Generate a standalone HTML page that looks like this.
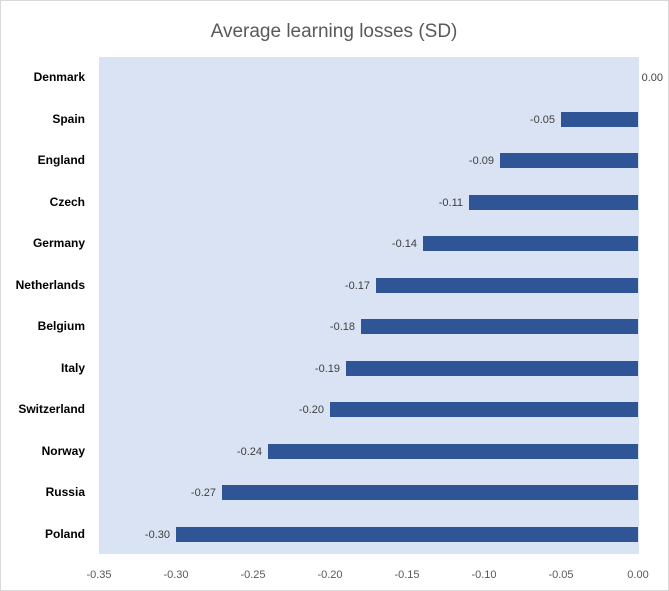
<!DOCTYPE html>
<html><head><meta charset="utf-8"><style>
body{margin:0;background:#fff;}
svg{display:block;font-family:"Liberation Sans",sans-serif;}
</style></head><body>
<svg width="669" height="591" viewBox="0 0 669 591">
<rect x="0.5" y="0.5" width="668" height="590" fill="#fff" stroke="#d9d9d9"/>
<text x="334" y="37" text-anchor="middle" font-size="19" fill="#595959">Average learning losses (SD)</text>
<rect x="99" y="57" width="540" height="497" fill="#dae3f3"/>
<g font-size="12" font-weight="bold" fill="#000" text-anchor="end">
<text x="85" y="81">Denmark</text><text x="85" y="123">Spain</text><text x="85" y="164">England</text><text x="85" y="206">Czech</text><text x="85" y="247">Germany</text><text x="85" y="289">Netherlands</text><text x="85" y="330">Belgium</text><text x="85" y="372">Italy</text><text x="85" y="413">Switzerland</text><text x="85" y="455">Norway</text><text x="85" y="496">Russia</text><text x="85" y="538">Poland</text>
</g>
<g fill="#2f5597">
<rect x="561" y="112" width="77" height="15"/>
<rect x="500" y="153" width="138" height="15"/>
<rect x="469" y="195" width="169" height="15"/>
<rect x="423" y="236" width="215" height="15"/>
<rect x="376" y="278" width="262" height="15"/>
<rect x="361" y="319" width="277" height="15"/>
<rect x="346" y="361" width="292" height="15"/>
<rect x="330" y="402" width="308" height="15"/>
<rect x="268" y="444" width="370" height="15"/>
<rect x="222" y="485" width="416" height="15"/>
<rect x="176" y="527" width="462" height="15"/>
</g>
<g font-size="11" fill="#404040" text-anchor="end">
<text x="663" y="81">0.00</text>
<text x="555" y="123">-0.05</text><text x="494" y="164">-0.09</text><text x="463" y="206">-0.11</text><text x="417" y="247">-0.14</text><text x="370" y="289">-0.17</text><text x="355" y="330">-0.18</text><text x="340" y="372">-0.19</text><text x="324" y="413">-0.20</text><text x="262" y="455">-0.24</text><text x="216" y="496">-0.27</text><text x="170" y="538">-0.30</text>
</g>
<g font-size="11" fill="#595959" text-anchor="middle">
<text x="99" y="578">-0.35</text><text x="176" y="578">-0.30</text><text x="253" y="578">-0.25</text><text x="330" y="578">-0.20</text><text x="407" y="578">-0.15</text><text x="484" y="578">-0.10</text><text x="561" y="578">-0.05</text><text x="638" y="578">0.00</text>
</g>
</svg>
</body></html>
